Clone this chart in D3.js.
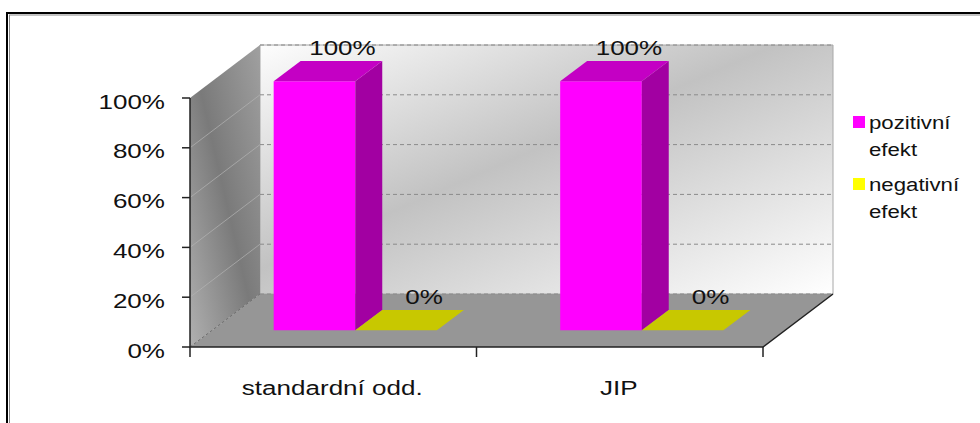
<!DOCTYPE html>
<meta charset="utf-8">
<style>
  body { margin: 0; background: #fff; }
  svg text { font-family: "Liberation Sans", Arial, sans-serif; fill: #111; }
  .tick-label { font-size: 21px; }
  .cat-label { font-size: 21px; }
  .data-label { font-size: 21px; }
  .legend-label { font-size: 19px; }
</style>
<body>
<div id="vis"></div>
<script src="https://cdn.jsdelivr.net/npm/d3@7"></script>
<script>

const categories = ['standardní odd.', 'JIP'];
const seriesNames = ['pozitivní efekt', 'negativní efekt'];
const positive = [1, 1];
const negative = [0, 0];
const yTicks = [0, 0.2, 0.4, 0.6, 0.8, 1];

const width = 980,
    height = 423;

const pink = '#ff00ff', pinkTop = '#c400c4', pinkSide = '#a200a2';
const yellow = '#ffff00', yellowTop = '#c8c800', yellowSide = '#a0a000';
const seriesColors = [
  {front: pink, top: pinkTop, side: pinkSide},
  {front: yellow, top: yellowTop, side: yellowSide}
];
const pctFormat = d3.format('.0%');

// text in the original is wider than the font, so stretch it
const sx = 1.24;
// full depth of the 3d box and where the bars sit inside it
const DX = 70, DY = -53;
const t1 = 0.315, t2 = 0.70;

const x0 = d3.scaleBand().domain(categories).range([190, 763]);
const x1 = d3.scaleBand().domain(seriesNames).range([0, x0.bandwidth()])
    .paddingInner(0).paddingOuter(0.755);
const y = d3.scaleLinear().domain([0, 1]).range([347, 98]);

const proj = (x, yy, t) => [x + t*DX, yy + t*DY];
const pts = arr => arr.map(p => p.join(',')).join(' ');

const svg = d3.select('#vis').append('svg')
    .attr('width', width)
    .attr('height', height);

const defs = svg.append('defs');
let g1 = defs.append('linearGradient').attr('id', 'back-grad')
    .attr('x1', 0).attr('y1', 0).attr('x2', 1).attr('y2', 1);
g1.append('stop').attr('offset', 0).attr('stop-color', '#fdfdfd');
g1.append('stop').attr('offset', 0.45).attr('stop-color', '#c2c2c2');
g1.append('stop').attr('offset', 1).attr('stop-color', '#ffffff');
let g2 = defs.append('linearGradient').attr('id', 'side-grad')
    .attr('x1', 0).attr('y1', 1).attr('x2', 1).attr('y2', 0);
g2.append('stop').attr('offset', 0).attr('stop-color', '#b0b0b0');
g2.append('stop').attr('offset', 0.5).attr('stop-color', '#7a7a7a');
g2.append('stop').attr('offset', 1).attr('stop-color', '#a0a0a0');

// frame
svg.append('rect')
    .attr('x', 7).attr('y', 13)
    .attr('width', 1000).attr('height', 500)
    .attr('fill', 'none').attr('stroke', '#000').attr('stroke-width', 2);
svg.append('rect')
    .attr('x', 9.5).attr('y', 15)
    .attr('width', 1000).attr('height', 500)
    .attr('fill', 'none').attr('stroke', '#888').attr('stroke-width', 1);

const xL = x0.range()[0], xR = x0.range()[1];
const chart = svg.append('g');

// back wall
chart.append('polygon')
    .attr('points', pts([proj(xL, y(1), 1), proj(xR, y(1), 1), proj(xR, y(0), 1), proj(xL, y(0), 1)]))
    .attr('fill', 'url(#back-grad)')
    .attr('stroke', '#a8a8a8');
// left wall
chart.append('polygon')
    .attr('points', pts([[xL, y(0)], [xL, y(1)], proj(xL, y(1), 1), proj(xL, y(0), 1)]))
    .attr('fill', 'url(#side-grad)');
// floor
chart.append('polygon')
    .attr('points', pts([[xL, y(0)], [xR, y(0)], proj(xR, y(0), 1), proj(xL, y(0), 1)]))
    .attr('fill', '#969696');

// gridlines on the back wall and the left wall
yTicks.forEach(v => {
  let a = proj(xL, y(v), 1), b = proj(xR, y(v), 1);
  chart.append('line')
      .attr('x1', a[0]).attr('y1', a[1]).attr('x2', b[0]).attr('y2', b[1])
      .attr('stroke', '#8a8a8a').attr('stroke-dasharray', '4,3');
  if (v > 0 && v < 1) {
    chart.append('line')
        .attr('x1', xL).attr('y1', y(v)).attr('x2', a[0]).attr('y2', a[1])
        .attr('stroke', '#b4b4b4').attr('stroke-opacity', 0.7);
  }
});
let c0 = proj(xL, y(0), 1);
chart.append('line')
    .attr('x1', xL).attr('y1', y(0)).attr('x2', c0[0]).attr('y2', c0[1])
    .attr('stroke', '#707070').attr('stroke-dasharray', '3,2');

// axes
let c1 = proj(xR, y(0), 1);
chart.append('path')
    .attr('d', 'M' + xL + ',' + y(1) + 'L' + xL + ',' + y(0) + 'L' + xR + ',' + y(0) + 'L' + c1[0] + ',' + c1[1])
    .attr('fill', 'none').attr('stroke', '#222').attr('stroke-width', 1.5);
yTicks.forEach(v => {
  chart.append('line')
      .attr('x1', xL - 8).attr('y1', y(v)).attr('x2', xL).attr('y2', y(v))
      .attr('stroke', '#222').attr('stroke-width', 1.5);
  chart.append('text')
      .attr('class', 'tick-label')
      .attr('text-anchor', 'end')
      .attr('transform', 'translate(' + [165, y(v) + 10.5] + ') scale(' + sx + ',1)')
      .text(pctFormat(v));
});
[xL, xL + x0.step(), xR].forEach(xx => {
  chart.append('line')
      .attr('x1', xx).attr('y1', y(0)).attr('x2', xx).attr('y2', y(0) + 10)
      .attr('stroke', '#222').attr('stroke-width', 1.5);
});
categories.forEach(c => {
  chart.append('text')
      .attr('class', 'cat-label')
      .attr('text-anchor', 'middle')
      .attr('transform', 'translate(' + [x0(c) + x0.bandwidth()/2 - 1, 395] + ') scale(' + sx + ',1)')
      .text(c);
});

// bars
const bars = [];
categories.forEach((c, i) => {
  bars.push({cat: c, s: 0, value: positive[i]});
  bars.push({cat: c, s: 1, value: negative[i]});
});

const barG = chart.selectAll('.bar')
    .data(bars)
    .enter().append('g')
    .attr('class', 'bar');

barG.each(function(d) {
  let g = d3.select(this);
  let a = x0(d.cat) + x1(seriesNames[d.s]);
  let b = a + x1.bandwidth();
  let col = seriesColors[d.s];
  let yb = y(0), yt = y(d.value);
  if (d.value > 0) {
    g.append('polygon')
        .attr('points', pts([proj(a, yb, t1), proj(b, yb, t1), proj(b, yt, t1), proj(a, yt, t1)]))
        .attr('fill', col.front);
    g.append('polygon')
        .attr('points', pts([proj(b, yb, t1), proj(b, yb, t2), proj(b, yt, t2), proj(b, yt, t1)]))
        .attr('fill', col.side);
  }
  g.append('polygon')
      .attr('points', pts([proj(a, yt, t1), proj(b, yt, t1), proj(b, yt, t2), proj(a, yt, t2)]))
      .attr('fill', col.top);
  let lp = proj((a + b)/2, yt, t2);
  g.append('text')
      .attr('class', 'data-label')
      .attr('text-anchor', 'middle')
      .attr('transform', 'translate(' + [lp[0] + 1, lp[1] - 6] + ') scale(' + sx + ',1)')
      .text(pctFormat(d.value));
});

// legend
const legend = svg.append('g')
    .attr('transform', 'translate(853,116)');
seriesNames.forEach((s, i) => {
  let lg = legend.append('g').attr('transform', 'translate(0,' + (i*62) + ')');
  lg.append('rect')
      .attr('width', 12).attr('height', 12)
      .attr('fill', seriesColors[i].front);
  let words = s.split(' ');
  words.forEach((w, k) => {
    lg.append('text')
        .attr('class', 'legend-label')
        .attr('transform', 'translate(' + [16, 13 + k*27] + ') scale(1.17,1)')
        .text(w);
  });
});

</script>
</body>
